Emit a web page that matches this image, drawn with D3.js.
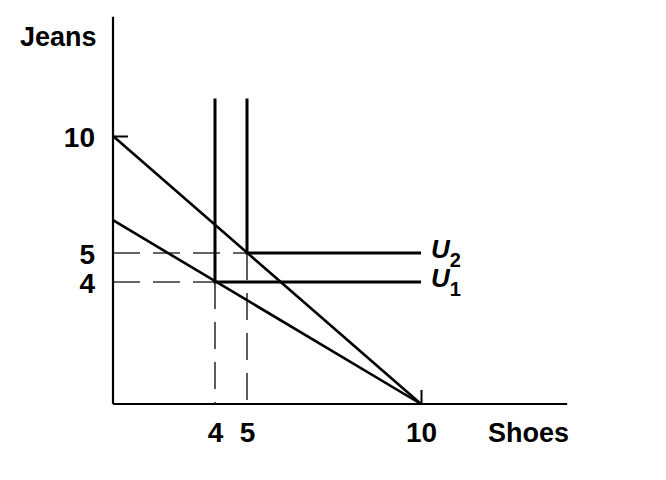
<!DOCTYPE html>
<html>
<head>
<meta charset="utf-8">
<script src="https://cdn.jsdelivr.net/npm/d3@7/dist/d3.min.js"></script>
<style>
  html, body { margin: 0; padding: 0; background: #fff; }
  svg { display: block; }
  text { font-family: "Liberation Sans", Arial, Helvetica, sans-serif; font-weight: bold; fill: #000; }
</style>
</head>
<body>
<svg id="chart" width="666" height="480"></svg>
<script>
// ---- data ----
const xTicks = [4, 5, 10];
const yTicks = [4, 5, 10];
const xTickLabels = ["4", "5", "10"];
const yTickLabels = ["4", "5", "10"];
const xLabel = "Shoes";
const yLabel = "Jeans";
// budget lines: intercepts on each axis
const budgetJeansIntercept = [10, 6.4];
const budgetShoesIntercept = [10, 10];
// L-shaped indifference curves (perfect complements): corner points
const curveNames = ["U", "U"];
const curveSubs = ["1", "2"];
const curveShoes = [4, 5];
const curveJeans = [4, 5];
const curveTop = 11.6;    // jeans level where vertical arms end
const curveRight = 10;    // shoes level where horizontal arms end
const axisMaxX = 14.2;
const axisMaxY = 15.1;

// ---- scales (schematic, piecewise) ----
const x = d3.scaleLinear().domain([0, 4, 5, 10]).range([113, 215, 247, 421]);
const y = d3.scaleLinear().domain([0, 4, 5, 10]).range([404, 282, 253, 136]);

const svg = d3.select("#chart");
const g = svg.append("g");

// dashed guides
const dash = "27 13";
curveShoes.forEach((s, i) => {
  const j = curveJeans[i];
  g.append("line").attr("x1", x(0)).attr("y1", y(j)).attr("x2", x(s)).attr("y2", y(j))
    .attr("stroke", "#333").attr("stroke-width", 1.6).attr("stroke-dasharray", dash);
  g.append("line").attr("x1", x(s)).attr("y1", y(j)).attr("x2", x(s)).attr("y2", y(0))
    .attr("stroke", "#333").attr("stroke-width", 1.6).attr("stroke-dasharray", dash);
});

// budget lines
const line = d3.line().x(d => x(d[0])).y(d => y(d[1]));
budgetJeansIntercept.forEach((jv, i) => {
  g.append("path").attr("d", line([[0, jv], [budgetShoesIntercept[i], 0]]))
    .attr("fill", "none").attr("stroke", "#000").attr("stroke-width", 2.6);
});

// indifference curves
curveShoes.forEach((s, i) => {
  const j = curveJeans[i];
  g.append("path").attr("d", line([[s, curveTop], [s, j], [curveRight, j]]))
    .attr("fill", "none").attr("stroke", "#000").attr("stroke-width", 3);
  const t = g.append("text")
    .attr("x", x(curveRight) + 10).attr("y", y(j) + 5)
    .style("font-size", "26px").style("font-style", "italic");
  t.append("tspan").text(curveNames[i]);
  t.append("tspan").attr("dy", 9).style("font-size", "20px").style("font-style", "normal").text(curveSubs[i]);
});

// axes (labels + tick marks via d3 axes)
const xAxis = d3.axisBottom(x).tickValues(xTicks).tickFormat((d, i) => xTickLabels[i])
  .tickSizeInner(-14).tickSizeOuter(0).tickPadding(18);
const yAxis = d3.axisLeft(y).tickValues(yTicks).tickFormat((d, i) => yTickLabels[i])
  .tickSizeInner(-15).tickSizeOuter(0).tickPadding(18);

const gx = g.append("g").attr("transform", `translate(0,${y(0)})`).call(xAxis);
const gy = g.append("g").attr("transform", `translate(${x(0)},0)`).call(yAxis);
[gx, gy].forEach(a => {
  a.select(".domain").remove();
  a.selectAll(".tick line").attr("stroke", "#000").attr("stroke-width", 2)
    .attr("display", d => d === 10 ? null : "none");
  a.selectAll(".tick text").attr("font-family", null).attr("font-size", null)
    .style("font-size", "28px").attr("fill", "#000");
});
gy.selectAll(".tick text").attr("dy", "0.39em");

// axis lines
g.append("line").attr("x1", x(0)).attr("y1", y(0)).attr("x2", x(axisMaxX)).attr("y2", y(0))
  .attr("stroke", "#000").attr("stroke-width", 2.2);
g.append("line").attr("x1", x(0)).attr("y1", y(0)).attr("x2", x(0)).attr("y2", y(axisMaxY))
  .attr("stroke", "#000").attr("stroke-width", 2.2);

// axis titles
g.append("text").attr("x", 20).attr("y", 46).style("font-size", "27px").text(yLabel);
g.append("text").attr("x", 488).attr("y", 442).style("font-size", "27px").text(xLabel);
</script>
</body>
</html>
